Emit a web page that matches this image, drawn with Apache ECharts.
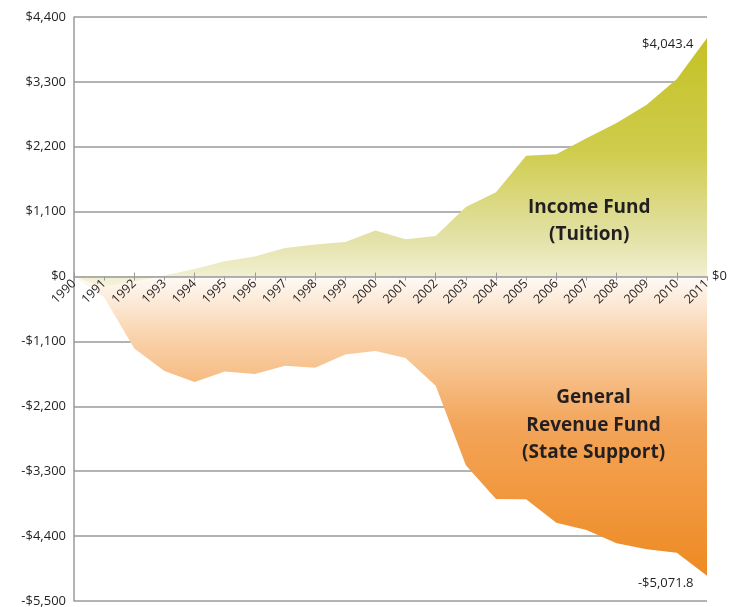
<!DOCTYPE html>
<html>
<head>
<meta charset="utf-8">
<script src="https://cdn.jsdelivr.net/npm/echarts@6/dist/echarts.min.js"></script>
<style>
  html, body { margin: 0; padding: 0; background: #fff; }
  #chart { width: 742px; height: 607px; }
</style>
</head>
<body>
<div id="chart"></div>
<script>
// 年份
const years = ['1990', '1991', '1992', '1993', '1994', '1995', '1996', '1997', '1998', '1999', '2000',
  '2001', '2002', '2003', '2004', '2005', '2006', '2007', '2008', '2009', '2010', '2011'];
// Income Fund (Tuition)
const incomeFund = [0, -175, -80, 20, 130, 260, 339, 486, 542, 587, 779,
  633, 689, 1180, 1429, 2050, 2073, 2344, 2604, 2914, 3349, 4043.4];
// General Revenue Fund (State Support)
const generalFund = [0, -350, -1219, -1603, -1789, -1608, -1653, -1512, -1546, -1320, -1264,
  -1382, -1851, -3198, -3771, -3777, -4173, -4297, -4523, -4624, -4681, -5071.8];
// y 轴刻度
const yMin = -5500;
const yMax = 4400;
const yStep = 1100;

const FONT = '"Open Sans", sans-serif';

function money(v, digits) {
  const neg = v < 0;
  const s = Math.abs(v).toFixed(digits || 0);
  const parts = s.split('.');
  parts[0] = parts[0].replace(/\B(?=(\d{3})+(?!\d))/g, ',');
  return (neg ? '-$' : '$') + parts.join('.');
}

const chart = echarts.init(document.getElementById('chart'));
const last = years.length - 1;

// 网格，x 轴放到 0 的位置（onZero 在这里不生效，用 offset 上移）
const grid = { left: 74, right: 35, top: 17, bottom: 6 };
const plotH = 607 - grid.top - grid.bottom;
const zeroOffset = -plotH * (0 - yMin) / (yMax - yMin);

// 末端数值标注
function endMark(values, offset) {
  return {
    symbol: 'circle',
    symbolSize: 1,
    itemStyle: { color: 'rgba(0,0,0,0)' },
    label: {
      show: true,
      position: 'left',
      distance: 13,
      offset: offset,
      fontFamily: FONT,
      fontSize: 13,
      color: '#231f20',
      formatter: p => money(p.value, 1)
    },
    data: [{ coord: [years[last], values[last]], value: values[last] }]
  };
}

const option = {
  animation: false,
  grid: Object.assign({ outerBoundsMode: 'none', containLabel: false }, grid),
  xAxis: [
    {
      type: 'category',
      data: years,
      boundaryGap: false,
      offset: zeroOffset,
      axisLine: { onZero: false, lineStyle: { color: '#9a9a9a', width: 1.5 } },
      axisTick: { show: true, length: 4, inside: false, lineStyle: { color: '#9a9a9a' } },
      axisLabel: { rotate: 45, fontFamily: FONT, fontSize: 12.5, color: '#231f20', margin: 5, interval: 0 },
      z: 5
    },
    {
      type: 'category',
      data: years,
      boundaryGap: false,
      position: 'bottom',
      offset: zeroOffset,
      axisLine: { show: false, onZero: false },
      axisTick: { show: true, length: 4, inside: true, lineStyle: { color: '#9a9a9a' } },
      axisLabel: { show: false },
      z: 5
    }
  ],
  yAxis: [
    {
      type: 'value',
      min: yMin,
      max: yMax,
      interval: yStep,
      axisLine: { show: true, lineStyle: { color: '#9a9a9a', width: 1.5 } },
      axisTick: { show: false },
      splitLine: { lineStyle: { color: '#9a9a9a', width: 1.5 } },
      axisLabel: { formatter: v => money(v), fontFamily: FONT, fontSize: 13, color: '#231f20', margin: 8 }
    },
    {
      type: 'value',
      position: 'right',
      min: yMin,
      max: yMax,
      interval: yStep,
      axisLine: { show: false },
      axisTick: { show: false },
      splitLine: { show: false },
      axisLabel: { formatter: v => (v === 0 ? '$0' : ''), fontFamily: FONT, fontSize: 13, color: '#231f20', margin: 5 }
    }
  ],
  series: [
    {
      name: 'General Revenue Fund',
      type: 'line',
      data: generalFund,
      symbol: 'none',
      lineStyle: { width: 0 },
      areaStyle: {
        opacity: 1,
        color: new echarts.graphic.LinearGradient(0, 0, 0, 1, [
          { offset: 0, color: '#fefaf6' },
          { offset: 0.2, color: '#f9d3ac' },
          { offset: 0.5, color: '#f3a458' },
          { offset: 1, color: '#ee8a22' }
        ])
      },
      markPoint: endMark(generalFund, [0, 8]),
      z: 2
    },
    {
      name: 'Income Fund',
      type: 'line',
      data: incomeFund,
      symbol: 'none',
      lineStyle: { width: 0 },
      areaStyle: {
        opacity: 1,
        color: new echarts.graphic.LinearGradient(0, 0, 0, 1, [
          { offset: 0, color: '#c4c126' },
          { offset: 0.45, color: '#cfcc4c' },
          { offset: 0.8, color: '#e3e1a6' },
          { offset: 1, color: '#f4f3dc' }
        ])
      },
      markPoint: endMark(incomeFund, [0, 6]),
      z: 3
    }
  ],
  graphic: [
    {
      type: 'text',
      left: 588 - 60,
      top: 194,
      style: {
        text: 'Income Fund\n(Tuition)',
        align: 'center',
        textAlign: 'center',
        fontFamily: FONT,
        fontWeight: 'bold',
        fontSize: 19,
        lineHeight: 27,
        fill: '#231f20',
        x: 60
      },
      z: 10
    },
    {
      type: 'text',
      left: 602 - 80,
      top: 384,
      style: {
        text: 'General\nRevenue Fund\n(State Support)',
        align: 'center',
        textAlign: 'center',
        fontFamily: FONT,
        fontWeight: 'bold',
        fontSize: 19,
        lineHeight: 27.5,
        fill: '#231f20',
        x: 80
      },
      z: 10
    }
  ]
};

chart.setOption(option);
</script>
</body>
</html>
